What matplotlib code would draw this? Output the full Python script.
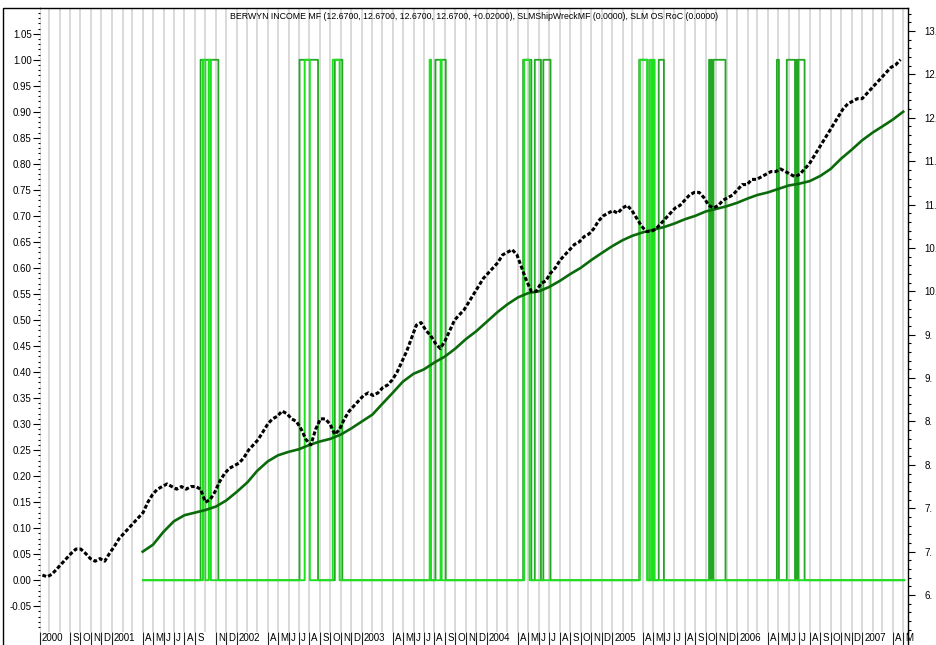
import matplotlib
matplotlib.use("Agg")
import numpy as np
import pandas as pd
import matplotlib.pyplot as plt
import matplotlib.transforms as mtransforms
from matplotlib.ticker import MultipleLocator, FuncFormatter
from matplotlib.lines import Line2D

plt.rcParams['font.family'] = ['Liberation Sans', 'DejaVu Sans']

title = ("BERWYN INCOME MF (12.6700, 12.6700, 12.6700, 12.6700, +0.02000), "
         "SLMShipWreckMF (0.0000), SLM OS RoC (0.0000)")

# fund closes, sampled every two weeks
price_dates = pd.date_range("2000-06-12", periods=180, freq="14D")
price = [
    6.73, 6.71, 6.74, 6.80, 6.86, 6.92, 6.98, 7.03, 7.03, 6.98,
    6.92, 6.89, 6.92, 6.89, 6.98, 7.06, 7.15, 7.21, 7.27, 7.33,
    7.39, 7.45, 7.57, 7.66, 7.72, 7.75, 7.78, 7.75, 7.72, 7.75,
    7.72, 7.75, 7.75, 7.72, 7.57, 7.60, 7.69, 7.81, 7.90, 7.96,
    7.99, 8.02, 8.08, 8.17, 8.23, 8.29, 8.38, 8.47, 8.53, 8.56,
    8.62, 8.59, 8.53, 8.50, 8.41, 8.29, 8.23, 8.41, 8.53, 8.53,
    8.47, 8.35, 8.41, 8.53, 8.62, 8.68, 8.74, 8.80, 8.83, 8.80,
    8.83, 8.89, 8.92, 8.98, 9.07, 9.19, 9.31, 9.46, 9.61, 9.64,
    9.55, 9.49, 9.40, 9.34, 9.43, 9.55, 9.67, 9.73, 9.79, 9.88,
    9.97, 10.06, 10.15, 10.21, 10.27, 10.33, 10.42, 10.45, 10.48, 10.42,
    10.27, 10.12, 10.00, 10.00, 10.09, 10.12, 10.21, 10.27, 10.36, 10.42,
    10.48, 10.54, 10.57, 10.63, 10.66, 10.72, 10.81, 10.87, 10.90, 10.93,
    10.90, 10.96, 10.99, 10.93, 10.84, 10.75, 10.69, 10.69, 10.72, 10.78,
    10.84, 10.90, 10.96, 10.99, 11.05, 11.11, 11.14, 11.14, 11.08, 10.99,
    10.96, 10.99, 11.05, 11.08, 11.11, 11.17, 11.23, 11.23, 11.29, 11.29,
    11.32, 11.35, 11.38, 11.38, 11.41, 11.38, 11.35, 11.32, 11.35, 11.41,
    11.47, 11.56, 11.65, 11.74, 11.83, 11.92, 12.01, 12.10, 12.16, 12.19,
    12.22, 12.22, 12.28, 12.34, 12.40, 12.46, 12.52, 12.58, 12.61, 12.67,
]

# moving average, month starts
ma_dates = pd.date_range("2001-04-01", "2007-05-01", freq="MS")
ma = [
    7.00, 7.08, 7.23, 7.35, 7.42, 7.45, 7.48, 7.52, 7.59, 7.69,
    7.80, 7.93, 8.04, 8.11, 8.15, 8.18, 8.23, 8.27, 8.30, 8.35,
    8.42, 8.50, 8.58, 8.70, 8.83, 8.96, 9.05, 9.10, 9.18, 9.25,
    9.34, 9.45, 9.54, 9.65, 9.76, 9.85, 9.93, 9.98, 10.00, 10.05,
    10.12, 10.20, 10.27, 10.36, 10.44, 10.52, 10.59, 10.64, 10.68, 10.71,
    10.74, 10.78, 10.83, 10.87, 10.92, 10.95, 10.98, 11.02, 11.07, 11.11,
    11.14, 11.18, 11.22, 11.24, 11.27, 11.33, 11.41, 11.53, 11.63, 11.74,
    11.83, 11.90, 11.98, 12.07,
]

# on/off periods of the two signals
signal_start, signal_end = "2001-04-02", "2007-05-04"
shipwreck_on = [
    ("2001-09-17", "2001-11-08"),
    ("2002-07-03", "2002-08-25"),
    ("2002-10-13", "2002-11-05"),
    ("2003-08-02", "2003-09-03"),
    ("2004-04-16", "2004-05-08"),
    ("2004-05-20", "2004-06-07"), ("2004-06-13", "2004-07-03"),
    ("2005-03-20", "2005-04-15"),
    ("2005-05-17", "2005-06-01"),
    ("2005-10-11", "2005-10-14"), ("2005-10-17", "2005-10-20"), ("2005-10-24", "2005-11-27"),
    ("2006-04-27", "2006-05-03"),
    ("2006-05-26", "2006-06-19"), ("2006-06-22", "2006-06-26"), ("2006-06-29", "2006-07-17"),
]
osroc_on = [
    ("2001-09-23", "2001-09-29"), ("2001-10-11", "2001-10-17"),
    ("2002-07-18", "2002-08-02"),
    ("2002-10-08", "2002-10-28"),
    ("2003-07-18", "2003-07-22"), ("2003-08-19", "2003-08-22"),
    ("2004-04-19", "2004-05-05"),
    ("2005-03-23", "2005-04-13"), ("2005-04-21", "2005-04-27"), ("2005-05-02", "2005-05-05"),
]

month_letters = "JFMAMJJASOND"
skip_months = ["2000-07", "2000-08", "2001-10"]


def signal_series(intervals):
    idx = pd.bdate_range(signal_start, signal_end)
    s = pd.Series(0.0, index=idx)
    for a, b in intervals:
        s[(s.index >= pd.Timestamp(a)) & (s.index < pd.Timestamp(b))] = 1.0
    return s


fig = plt.figure(figsize=(9.37, 6.45), dpi=100)
ax = fig.add_axes([40 / 937, 13 / 645, 868 / 937, 624 / 645])
ax2 = ax.twinx()

x0, x1 = pd.Timestamp("2000-06-05"), pd.Timestamp("2007-05-15")
ax.set_xlim(x0, x1)
ax.set_ylim(-0.0995, 1.0995)
ax2.set_ylim(6.074, 13.265)

# signals on the left scale
s1 = signal_series(shipwreck_on)
s2 = signal_series(osroc_on)
ax.plot(s1.index, s1.values, drawstyle="steps-post", color="#24a824", lw=1.3, zorder=3)
ax.plot(s2.index, s2.values, drawstyle="steps-post", color="#1ee01e", lw=1.4, zorder=4)

# price and average on the right scale
ax2.plot(ma_dates, ma, color="#0b6b0b", lw=1.9, zorder=3)
ax2.plot(price_dates, price, ls=(0, (1.3, 0.7)), lw=2.2, color="k", zorder=4)

# month grid + label row
months = pd.date_range("2000-07-01", "2007-05-01", freq="MS")
labeled = [x0]
labels = ["2000"]
for m in months:
    key = m.strftime("%Y-%m")
    if key in skip_months or m.month in (2, 3):
        continue
    labeled.append(m)
    labels.append(str(m.year) if m.month == 1 else month_letters[m.month - 1])

ax.set_xticks(list(months), minor=True)
ax.set_xticks(labeled)
ax.set_xticklabels([])
ax.grid(which="both", axis="x", color="#cfcfcf", lw=1.1)
ax.set_axisbelow(True)
ax.tick_params(axis="x", which="major", direction="out", length=9.4, width=0.8, color="#222222")
ax.tick_params(axis="x", which="minor", length=0)

trans = mtransforms.blended_transform_factory(ax.transData, ax.transAxes)
trans = mtransforms.offset_copy(trans, fig=fig, x=2, y=0, units="dots")
for d, lab in zip(labeled, labels):
    ax.text(d, -0.0104, lab, transform=trans, ha="left", va="center", fontsize=7,
            clip_on=False)

# left axis
ax.yaxis.set_major_locator(MultipleLocator(0.05))
ax.yaxis.set_minor_locator(MultipleLocator(0.01))
ax.yaxis.set_major_formatter(FuncFormatter(lambda v, p: f"{v:.2f}"))
ax.tick_params(axis="y", which="major", direction="out", length=5, width=0.8, pad=1, labelsize=7)
ax.tick_params(axis="y", which="minor", direction="out", length=1.5, width=0.8)

# right axis, labels cut to the integer part
ax2.yaxis.set_major_locator(MultipleLocator(0.5))
ax2.yaxis.set_minor_locator(MultipleLocator(0.1))
ax2.yaxis.set_major_formatter(FuncFormatter(lambda v, p: f"{int(v)}."))
ax2.tick_params(axis="y", which="major", direction="out", length=5, width=0.8, pad=7, labelsize=7)
ax2.tick_params(axis="y", which="minor", direction="out", length=2.5, width=0.8)

for a in (ax, ax2):
    a.spines["left"].set_visible(False)
    a.spines["bottom"].set_visible(False)
ax.spines["right"].set_visible(False)
ax2.spines["top"].set_visible(False)
ax.spines["top"].set_linewidth(1.0)
ax2.spines["right"].set_linewidth(1.0)

ax.text(0.5, 0.987, title, transform=ax.transAxes, ha="center", va="center", fontsize=6.3)

# outer frame
fig.add_artist(Line2D([3 / 937, 3 / 937, 40 / 937], [0, 637 / 645, 637 / 645],
                      transform=fig.transFigure, color="k", lw=1.0))
fig.add_artist(Line2D([908 / 937, 908 / 937], [0, 13 / 645],
                      transform=fig.transFigure, color="k", lw=1.0))

fig.savefig("out.png", dpi=100)
